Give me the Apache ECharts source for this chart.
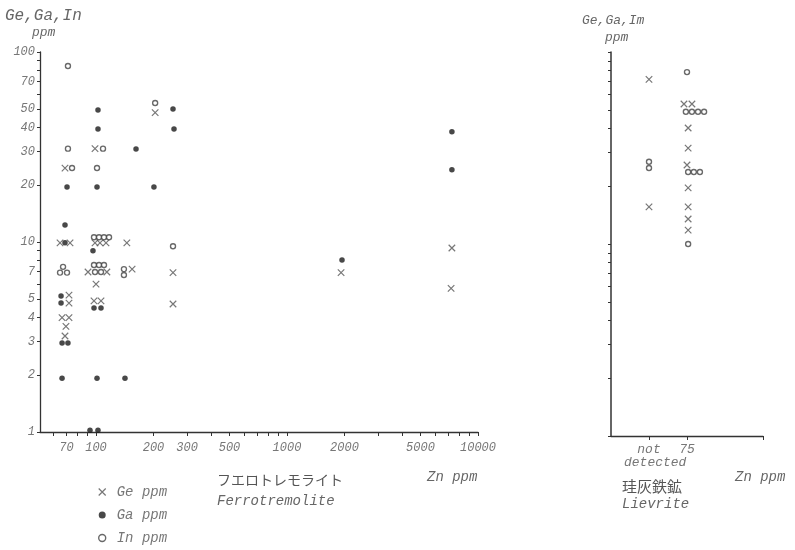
<!DOCTYPE html>
<html><head><meta charset="utf-8">
<script src="https://cdn.jsdelivr.net/npm/echarts@6/dist/echarts.min.js"></script>
<style>html,body{margin:0;padding:0;background:#fff}#c{width:795px;height:550px}</style>
</head><body><div id="c"></div>
<script>
// ---- tick values ----
const xTickLabels = [70, 100, 200, 300, 500, 1000, 2000, 5000, 10000];
const xTickMarks = [60, 70, 80, 90, 100, 200, 300, 400, 500, 600, 700, 800, 900, 1000, 2000, 3000, 4000, 5000, 6000, 7000, 8000, 9000, 10000];
const yTickLabels = [1, 2, 3, 4, 5, 7, 10, 20, 30, 40, 50, 70, 100];
const yTickMarks = [1, 2, 3, 4, 5, 6, 7, 8, 9, 10, 20, 30, 40, 50, 60, 70, 80, 90, 100];
const lievriteTickValues = [1, 2, 4];
const lievriteTickNames = {1: 'not', 2: '75', 4: ''};

// ---- Ferrotremolite: [Zn ppm, element ppm] ----
const geFerro = [
  [68.8, 24.5], [98.8, 31], [204, 48],
  [64.8, 9.9], [73.1, 9.9], [98.8, 9.9], [104.9, 9.9], [112.8, 9.9], [145, 9.9],
  [90.8, 6.95], [114, 6.95], [154.5, 7.2], [100, 6.0],
  [72.2, 5.25], [72.2, 4.77], [97.6, 4.9], [106.2, 4.9],
  [66.4, 4.0], [72.2, 4.0], [69.6, 3.6], [68.8, 3.2],
  [253, 6.9], [253, 4.72], [1919, 6.9], [7300, 9.3], [7230, 5.7]
];
const gaFerro = [
  [102.4, 49.5], [102.4, 39.3], [70.5, 19.5], [101.2, 19.5], [68.8, 12.3],
  [68.8, 9.9], [96.4, 9.0], [65.6, 5.2], [65.6, 4.77], [97.6, 4.5], [106.2, 4.5],
  [66.4, 2.94], [71.3, 2.94], [66.4, 1.92], [101.2, 1.92], [141.8, 1.92],
  [93, 1.02], [102.4, 1.02], [253, 50.1], [256, 39.3], [162, 30.9], [201, 19.5],
  [1941, 8.04], [7300, 38], [7300, 24]
];
const inFerro = [
  [71.3, 84.4], [71.3, 31], [108.8, 31], [74.9, 24.5], [101.2, 24.5], [204, 53.9],
  [97.6, 10.6], [103.7, 10.6], [110.1, 10.6], [117, 10.6],
  [97.6, 7.57], [103.7, 7.57], [110.1, 7.57], [98.8, 6.95], [106.2, 6.95],
  [67.2, 7.4], [64.8, 6.9], [70.5, 6.9], [140, 7.2], [140, 6.7], [253, 9.5]
];

// ---- Lievrite: [column position (1 = not detected, 2 = 75 ppm Zn), element ppm] ----
const geLiev = [
  [1.0, 72], [1.0, 15.6], [1.92, 53.6], [2.13, 53.6], [2.03, 40.2], [2.03, 31.6],
  [2.0, 25.8], [2.03, 19.6], [2.03, 15.6], [2.03, 13.5], [2.03, 11.8]
];
const inLiev = [
  [1.0, 26.8], [1.0, 24.9], [2.0, 78.6],
  [1.97, 48.8], [2.13, 48.8], [2.29, 48.8], [2.45, 48.8],
  [2.03, 23.7], [2.18, 23.7], [2.34, 23.7], [2.03, 10]
];
const gaLiev = [];

const MONO = '"Liberation Mono", "DejaVu Sans Mono", monospace';
const TXT = '#666';
const AX = '#333';
const crossPath = 'path://M0,0L10,10M10,0L0,10';

const geStyle = {color: 'transparent', borderColor: '#555', borderWidth: 1.2};
const gaStyle = {color: '#1a1a1a'};
const inStyle = {color: '#fff', borderColor: '#444', borderWidth: 1.4};

function lab(size) {
  return {fontFamily: MONO, fontStyle: 'italic', fontSize: size, color: '#777'};
}

const chart = echarts.init(document.getElementById('c'), null, {renderer: 'canvas'});
chart.setOption({
  backgroundColor: '#fff',
  animation: false,
  grid: [
    {left: 40, top: 52, width: 438, height: 380},
    {left: 611, top: 52, width: 152, height: 384}
  ],
  xAxis: [
    {
      gridIndex: 0, type: 'log', logBase: 10, min: 50.9, max: 10000,
      axisLine: {onZero: false, lineStyle: {color: AX, width: 1.3}},
      axisTick: {show: true, length: 4, customValues: xTickMarks, lineStyle: {color: AX}},
      axisLabel: Object.assign({customValues: xTickLabels, margin: 10, formatter: v => String(Math.round(v))}, lab(12)),
      splitLine: {show: false}, minorTick: {show: false}
    },
    {
      gridIndex: 1, type: 'value', min: 0, max: 4,
      axisLine: {onZero: false, lineStyle: {color: AX, width: 1.3}},
      axisTick: {show: true, length: 4, customValues: lievriteTickValues, lineStyle: {color: AX}},
      axisLabel: Object.assign({customValues: lievriteTickValues, margin: 7,
        formatter: v => lievriteTickNames[Math.round(v)] || ''}, lab(13)),
      splitLine: {show: false}
    }
  ],
  yAxis: [
    {
      gridIndex: 0, type: 'log', logBase: 10, min: 1, max: 100,
      axisLine: {onZero: false, lineStyle: {color: AX, width: 1.3}},
      axisTick: {show: true, length: 3, customValues: yTickMarks, lineStyle: {color: AX}},
      axisLabel: Object.assign({customValues: yTickLabels, margin: 5, formatter: v => String(Math.round(v))}, lab(12)),
      splitLine: {show: false}
    },
    {
      gridIndex: 1, type: 'log', logBase: 10, min: 1, max: 100,
      axisLine: {onZero: false, lineStyle: {color: AX, width: 1.5}},
      axisTick: {show: true, length: 3, customValues: yTickMarks, lineStyle: {color: AX}},
      axisLabel: {show: false},
      splitLine: {show: false}
    }
  ],
  legend: {
    orient: 'vertical', left: 98, top: 485, padding: 0, itemGap: 9, itemWidth: 7, itemHeight: 7,
    textStyle: Object.assign({padding: [0, 0, 0, 6]}, lab(14)),
    selectedMode: false,
    data: [
      {name: 'Ge ppm', icon: crossPath, itemStyle: geStyle},
      {name: 'Ga ppm', icon: 'circle', itemStyle: gaStyle},
      {name: 'In ppm', icon: 'circle', itemStyle: inStyle}
    ]
  },
  series: [
    {name: 'Ge ppm', type: 'scatter', xAxisIndex: 0, yAxisIndex: 0, data: geFerro, symbol: crossPath, symbolSize: 6.5, itemStyle: geStyle},
    {name: 'Ga ppm', type: 'scatter', xAxisIndex: 0, yAxisIndex: 0, data: gaFerro, symbol: 'circle', symbolSize: 5.5, itemStyle: gaStyle},
    {name: 'In ppm', type: 'scatter', xAxisIndex: 0, yAxisIndex: 0, data: inFerro, symbol: 'circle', symbolSize: 5, itemStyle: inStyle},
    {name: 'Ge ppm', type: 'scatter', xAxisIndex: 1, yAxisIndex: 1, data: geLiev, symbol: crossPath, symbolSize: 6.5, itemStyle: geStyle},
    {name: 'Ga ppm', type: 'scatter', xAxisIndex: 1, yAxisIndex: 1, data: gaLiev, symbol: 'circle', symbolSize: 5.5, itemStyle: gaStyle},
    {name: 'In ppm', type: 'scatter', xAxisIndex: 1, yAxisIndex: 1, data: inLiev, symbol: 'circle', symbolSize: 5, itemStyle: inStyle}
  ],
  graphic: [
    {type: 'text', left: 5, top: 8, style: {text: 'Ge,Ga,In', font: 'italic 16px ' + MONO, fill: TXT}},
    {type: 'text', left: 32, top: 26, style: {text: 'ppm', font: 'italic 13px ' + MONO, fill: TXT}},
    {type: 'text', left: 582, top: 14, style: {text: 'Ge,Ga,Im', font: 'italic 13px ' + MONO, fill: TXT}},
    {type: 'text', left: 605, top: 31, style: {text: 'ppm', font: 'italic 13px ' + MONO, fill: TXT}},
    {type: 'text', left: 624, top: 456, style: {text: 'detected', font: 'italic 13px ' + MONO, fill: '#777'}},
    {type: 'text', left: 217, top: 473, style: {text: 'フエロトレモライト', font: '14px "Noto Sans CJK JP"', fill: '#555'}},
    {type: 'text', left: 217, top: 494, style: {text: 'Ferrotremolite', font: 'italic 14px ' + MONO, fill: TXT}},
    {type: 'text', left: 427, top: 470, style: {text: 'Zn ppm', font: 'italic 14px ' + MONO, fill: TXT}},
    {type: 'text', left: 622, top: 479, style: {text: '珪灰鉄鉱', font: '15px "Noto Sans CJK JP"', fill: '#555'}},
    {type: 'text', left: 622, top: 497, style: {text: 'Lievrite', font: 'italic 14px ' + MONO, fill: TXT}},
    {type: 'text', left: 735, top: 470, style: {text: 'Zn ppm', font: 'italic 14px ' + MONO, fill: TXT}}
  ]
});
</script>
</body></html>
